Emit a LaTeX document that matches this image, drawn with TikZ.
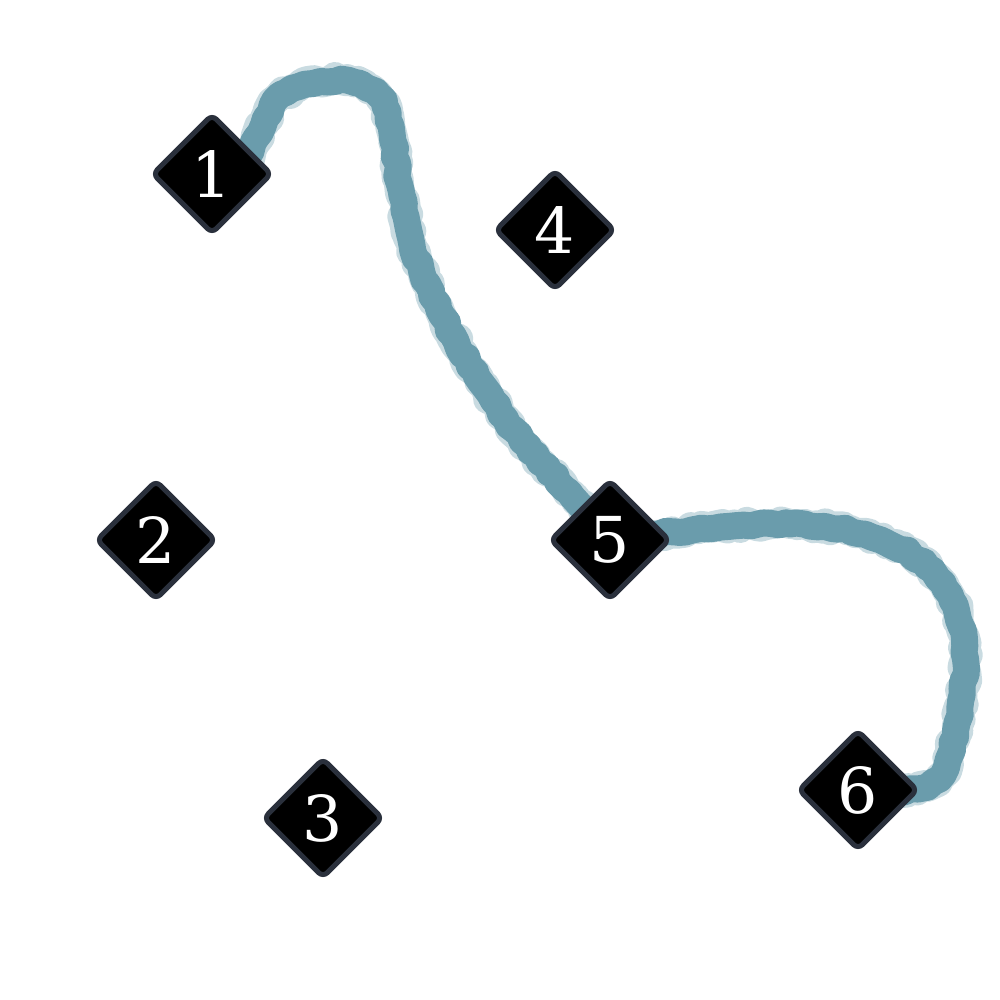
\documentclass[tikz,border=0pt]{standalone}
\usepackage{fontspec}
\setmainfont{DejaVu Serif}
\usetikzlibrary{shapes.geometric,decorations.pathmorphing,backgrounds}
\definecolor{stopedge}{RGB}{42,48,60}
\definecolor{routeteal}{RGB}{106,156,172}
\begin{document}
\begin{tikzpicture}[x=0.01cm,y=-0.01cm,
  stop/.style={diamond,draw=stopedge,fill=black,line width=0.05cm,
    rounded corners=0.06cm,minimum width=1.2cm,minimum height=1.2cm,
    inner sep=0pt,text=white,font=\fontsize{18}{18}\selectfont},
  route/.style={draw=routeteal,line width=0.27cm,line cap=round,line join=round,
    decoration={random steps,segment length=2pt,amplitude=0.5pt},decorate},
  routeedge/.style={draw=routeteal!80!white,line width=0.30cm,opacity=0.45,
    line cap=round,line join=round,
    decoration={random steps,segment length=1.5pt,amplitude=0.9pt},decorate}]
\useasboundingbox (0,0) rectangle (1000,1000);
\node[stop] (s1) at (212,174) {1};
\node[stop] (s4) at (555,230) {4};
\node[stop] (s2) at (156,540) {2};
\node[stop] (s5) at (610,540) {5};
\node[stop] (s3) at (323,818) {3};
\node[stop] (s6) at (858,790) {6};
\begin{scope}[on background layer]
% route 1 -> 5 -> 6
\draw[routeedge] (s1.center) to[out=-45,in=-120] (275,100)
  .. controls (300,80) and (355,70) .. (378,95)
  .. controls (395,115) and (395,180) .. (412,245)
  .. controls (430,300) and (470,370) .. (505,418)
  .. controls (535,460) and (570,490) .. (s5.center);
\draw[route] (s1.center) to[out=-45,in=-120] (275,100)
  .. controls (300,80) and (355,70) .. (378,95)
  .. controls (395,115) and (395,180) .. (412,245)
  .. controls (430,300) and (470,370) .. (505,418)
  .. controls (535,460) and (570,490) .. (s5.center);
\draw[routeedge] (s5.center) .. controls (660,535) and (720,522) .. (790,524)
  .. controls (870,526) and (930,550) .. (955,605)
  .. controls (975,655) and (960,720) .. (948,760)
  .. controls (938,795) and (900,792) .. (s6.center);
\draw[route] (s5.center) .. controls (660,535) and (720,522) .. (790,524)
  .. controls (870,526) and (930,550) .. (955,605)
  .. controls (975,655) and (960,720) .. (948,760)
  .. controls (938,795) and (900,792) .. (s6.center);
\end{scope}
\end{tikzpicture}
\end{document}
